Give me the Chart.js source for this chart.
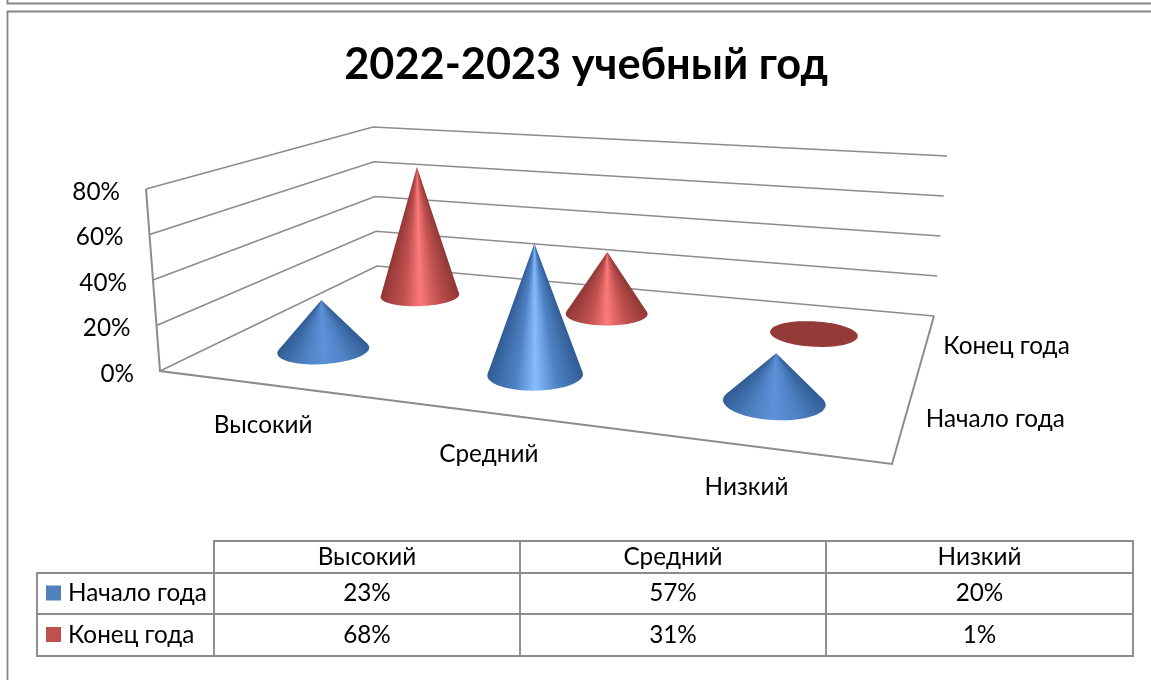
<!DOCTYPE html>
<html>
<head>
<meta charset="utf-8">
<style>
  html, body { margin: 0; padding: 0; background: #fff; }
  #wrap { position: relative; width: 1151px; height: 680px; }
</style>
<script src="https://cdn.jsdelivr.net/npm/chart.js@4"></script>
</head>
<body>
<div id="wrap"><canvas id="coneChart" width="1151" height="680"></canvas></div>
<script>
var chartTitle = '2022-2023 учебный год';
var categories = ['Высокий', 'Средний', 'Низкий'];
var seriesNames = ['Начало года', 'Конец года'];
var startOfYear = [23, 57, 20];
var endOfYear = [68, 31, 1];
var seriesColors = ['#4f81bd', '#c0504d'];
var valueTicks = [0, 20, 40, 60, 80];

(function () {
  var FONT = 'Lato, "Noto Sans", sans-serif';
  var LINE = '#8c8c8c';

  // corners of the 3d box on the picture: floor and the 80% level
  var floorMap = quadMap([160, 371], [892, 464], [934, 316], [377, 266]);
  var ceilMap = quadMap([146, 189], [908, 245], [947, 156], [373, 127]);

  var shades = [
    { edge: '#305c94', mid: '#4f82c4', bright: '#85bbff', dim: '#5c92da', flat: '#4f81bd' },
    { edge: '#8f3735', mid: '#c25250', bright: '#fb7a7a', dim: '#ec6e6d', flat: '#943a38' }
  ];

  function quadMap(p0, p1, p2, p3) {
    var sx = p0[0] - p1[0] + p2[0] - p3[0];
    var sy = p0[1] - p1[1] + p2[1] - p3[1];
    var dx1 = p1[0] - p2[0], dx2 = p3[0] - p2[0];
    var dy1 = p1[1] - p2[1], dy2 = p3[1] - p2[1];
    var den = dx1 * dy2 - dx2 * dy1;
    var g = (sx * dy2 - dx2 * sy) / den;
    var h = (dx1 * sy - sx * dy1) / den;
    var a = p1[0] - p0[0] + g * p1[0], b = p3[0] - p0[0] + h * p3[0];
    var d = p1[1] - p0[1] + g * p1[1], e = p3[1] - p0[1] + h * p3[1];
    return function (u, w) {
      var q = g * u + h * w + 1;
      return [(a * u + b * w + p0[0]) / q, (d * u + e * w + p0[1]) / q];
    };
  }

  function project(u, w, t) {
    var lo = floorMap(u, w), hi = ceilMap(u, w);
    return [lo[0] + (hi[0] - lo[0]) * t, lo[1] + (hi[1] - lo[1]) * t];
  }

  function line(ctx, pts, width) {
    ctx.beginPath();
    ctx.moveTo(pts[0][0], pts[0][1]);
    for (var i = 1; i < pts.length; i++) ctx.lineTo(pts[i][0], pts[i][1]);
    ctx.lineWidth = width;
    ctx.strokeStyle = LINE;
    ctx.stroke();
  }

  function text(ctx, str, x, y, align) {
    ctx.textAlign = align;
    ctx.textBaseline = 'middle';
    ctx.fillStyle = '#000';
    ctx.fillText(str, x, y);
  }

  function level(scale, value) {
    return (scale.bottom - scale.getPixelForValue(value)) / (scale.bottom - scale.top);
  }

  function drawBox(ctx, chart) {
    var y = chart.scales.y;
    y.ticks.forEach(function (tick) {
      var t = level(y, tick.value);
      line(ctx, [project(0, 0, t), project(0, 1, t), project(1, 1, t)], 1.7);
      var p = project(0, 0, t);
      text(ctx, tick.label, p[0] - 26, p[1] + 3, 'right');
    });
    line(ctx, [project(0, 0, 1), project(0, 0, 0), project(1, 0, 0), project(1, 1, 0)], 2);
  }

  function drawCone(ctx, u, w, t, shade) {
    var ru = 0.066, rw = 0.105;
    var apex = project(u, w, t);
    var ring = [], minX = Infinity, maxX = -Infinity, left, right, i;
    for (i = 0; i < 90; i++) {
      var a = i / 90 * Math.PI * 2;
      var p = floorMap(u + Math.cos(a) * ru, w + Math.sin(a) * rw);
      ring.push(p);
      minX = Math.min(minX, p[0]);
      maxX = Math.max(maxX, p[0]);
      var ang = Math.atan2(p[1] - apex[1], p[0] - apex[0]);
      if (ang < -Math.PI / 2) ang += Math.PI * 2;
      if (!left || ang > left.ang) left = { ang: ang, p: p };
      if (!right || ang < right.ang) right = { ang: ang, p: p };
    }
    var tall = (floorMap(u, w)[1] - apex[1]) / ((maxX - minX) / 2);
    var fill;
    if (tall < 0.2) {
      fill = shade.flat;
    } else {
      // shading runs round the apex, so the bands meet at the tip
      var span = (left.ang - right.ang) / (Math.PI * 2);
      fill = ctx.createConicGradient(right.ang, apex[0], apex[1]);
      fill.addColorStop(0, shade.edge);
      fill.addColorStop(span * 0.28, shade.mid);
      fill.addColorStop(span * 0.5, tall > 1.3 ? shade.bright : shade.dim);
      fill.addColorStop(span * 0.7, shade.mid);
      fill.addColorStop(span, shade.edge);
      fill.addColorStop(1, shade.edge);
    }
    ctx.fillStyle = fill;
    ctx.beginPath();
    ring.forEach(function (p, k) { k ? ctx.lineTo(p[0], p[1]) : ctx.moveTo(p[0], p[1]); });
    ctx.closePath();
    ctx.fill();
    if (tall >= 0.2) {
      ctx.beginPath();
      ctx.moveTo(apex[0], apex[1]);
      ctx.lineTo(left.p[0], left.p[1]);
      ctx.lineTo(right.p[0], right.p[1]);
      ctx.closePath();
      ctx.fill();
    }
  }

  function drawTable(ctx, chart) {
    var cols = [214, 520, 826, 1133];
    var rows = [541, 573, 614, 656];
    var left = 37;
    line(ctx, [[cols[0], rows[3]], [cols[0], rows[0]], [cols[3], rows[0]], [cols[3], rows[3]], [left, rows[3]], [left, rows[1]], [cols[3], rows[1]]], 1.9);
    line(ctx, [[left, rows[2]], [cols[3], rows[2]]], 1.9);
    line(ctx, [[cols[1], rows[0]], [cols[1], rows[3]]], 1.9);
    line(ctx, [[cols[2], rows[0]], [cols[2], rows[3]]], 1.9);
    categories.forEach(function (name, c) {
      text(ctx, name, (cols[c] + cols[c + 1]) / 2, (rows[0] + rows[1]) / 2, 'center');
    });
    chart.data.datasets.forEach(function (ds, s) {
      var mid = (rows[s + 1] + rows[s + 2]) / 2;
      ctx.fillStyle = seriesColors[s];
      ctx.fillRect(46, mid - 8, 15, 15);
      text(ctx, ds.label, 68, mid, 'left');
      ds.data.forEach(function (v, c) {
        text(ctx, v + '%', (cols[c] + cols[c + 1]) / 2, mid, 'center');
      });
    });
  }

  var cones3d = {
    id: 'cones3d',
    beforeDraw: function (chart) {
      var ctx = chart.ctx;
      ctx.save();
      ctx.fillStyle = '#fff';
      ctx.fillRect(0, 0, chart.width, chart.height);
      ctx.strokeStyle = '#858585';
      ctx.lineWidth = 1.8;
      ctx.beginPath();
      ctx.moveTo(7.5, 0); ctx.lineTo(7.5, 3.5); ctx.lineTo(chart.width, 3.5);
      ctx.moveTo(chart.width, 11.5); ctx.lineTo(7.5, 11.5); ctx.lineTo(7.5, chart.height);
      ctx.stroke();
      ctx.restore();
    },
    // the bars are replaced by cones standing on the same scales
    beforeDatasetsDraw: function (chart) {
      var ctx = chart.ctx, x = chart.scales.x, y = chart.scales.y;
      var n = seriesNames.length;
      ctx.save();
      ctx.font = '24.3px ' + FONT;
      drawBox(ctx, chart);
      categories.forEach(function (name, c) {
        var u = (x.getPixelForValue(c) - x.left) / x.width;
        var p = floorMap(u, 0);
        text(ctx, name, p[0] - c, p[1] + 41.5, 'center');
      });
      seriesNames.forEach(function (name, s) {
        var p = floorMap(1.025, (s + 0.5) / n);
        text(ctx, name, p[0], p[1], 'left');
      });
      for (var s = n - 1; s >= 0; s--) {
        var meta = chart.getDatasetMeta(s);
        meta.data.forEach(function (bar, c) {
          var u = (x.getPixelForValue(c) - x.left) / x.width;
          var t = (y.bottom - bar.y) / (y.bottom - y.top);
          drawCone(ctx, u, (s + 0.5) / n, t, shades[s]);
        });
      }
      drawTable(ctx, chart);
      ctx.restore();
      return false;
    }
  };

  new Chart(document.getElementById('coneChart').getContext('2d'), {
    type: 'bar',
    plugins: [cones3d],
    data: {
      labels: categories,
      datasets: [
        { label: seriesNames[0], data: startOfYear, backgroundColor: seriesColors[0] },
        { label: seriesNames[1], data: endOfYear, backgroundColor: seriesColors[1] }
      ]
    },
    options: {
      responsive: false,
      animation: false,
      layout: { padding: { left: 21, top: 39, bottom: 200, right: 0 } },
      plugins: {
        legend: { display: false },
        tooltip: { enabled: false },
        title: {
          display: true,
          text: chartTitle,
          color: '#000',
          font: { family: FONT, size: 43.3, weight: 'bold' },
          padding: { top: 0, bottom: 30 }
        }
      },
      scales: {
        x: { display: false },
        y: {
          display: false,
          min: valueTicks[0],
          max: valueTicks[valueTicks.length - 1],
          afterBuildTicks: function (scale) {
            scale.ticks = valueTicks.map(function (v) { return { value: v }; });
          },
          ticks: { callback: function (v) { return v + '%'; } }
        }
      }
    }
  });
})();
</script>
</body>
</html>
